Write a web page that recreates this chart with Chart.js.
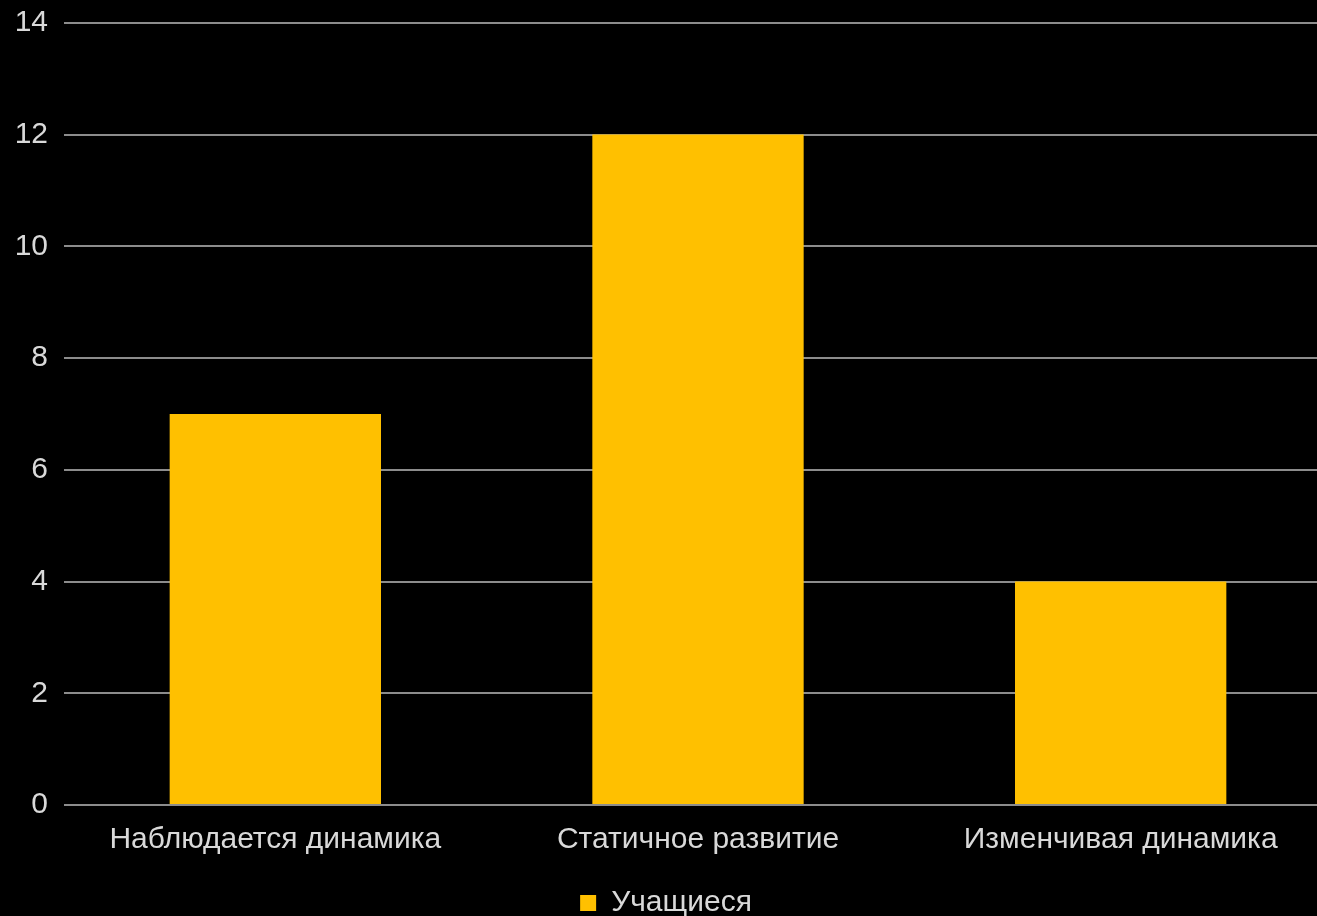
<!DOCTYPE html>
<html>
<head>
<meta charset="utf-8">
<script src="https://cdn.jsdelivr.net/npm/chart.js@4"></script>
<style>
  html, body { margin: 0; padding: 0; background: #000; overflow: hidden; }
  #wrap { width: 1332px; height: 916px; }
</style>
</head>
<body>
<div id="wrap"><canvas id="chart"></canvas></div>
<script>
// chart data
const categories = ['Наблюдается динамика', 'Статичное развитие', 'Изменчивая динамика'];
const students = [7, 12, 4];
const seriesName = 'Учащиеся';

const textColor = '#d9d9d9';
const gridColor = '#8c8c8c';
const font = { family: 'Liberation Sans', size: 30 };

new Chart(document.getElementById('chart').getContext('2d'), {
    type: 'bar',
    data: {
        labels: categories,
        datasets: [{
            label: seriesName,
            data: students,
            backgroundColor: '#ffc000',
            categoryPercentage: 1,
            barPercentage: 0.5
        }]
    },
    options: {
        responsive: true,
        maintainAspectRatio: false,
        animation: false,
        layout: { padding: { top: 0, left: 0, right: 0, bottom: -12 } },
        plugins: {
            legend: {
                position: 'bottom',
                labels: {
                    color: textColor,
                    font: font,
                    boxWidth: 16,
                    boxHeight: 16,
                    padding: 0
                }
            },
            tooltip: { enabled: false }
        },
        scales: {
            x: {
                grid: { display: false },
                border: { display: false },
                ticks: { color: textColor, font: font, padding: 9 },
                afterFit: function (scale) { scale.height += 21; }
            },
            y: {
                min: 0,
                max: 14,
                ticks: {
                    stepSize: 2,
                    color: textColor,
                    // small lineHeight keeps the top gridline close to the canvas edge
                    font: { family: 'Liberation Sans', size: 30, lineHeight: 0.45 },
                    padding: 16
                },
                afterFit: function (scale) { scale.width = 64; },
                grid: { color: gridColor, lineWidth: 2, drawTicks: false },
                border: { display: false }
            }
        }
    }
});
</script>
</body>
</html>
